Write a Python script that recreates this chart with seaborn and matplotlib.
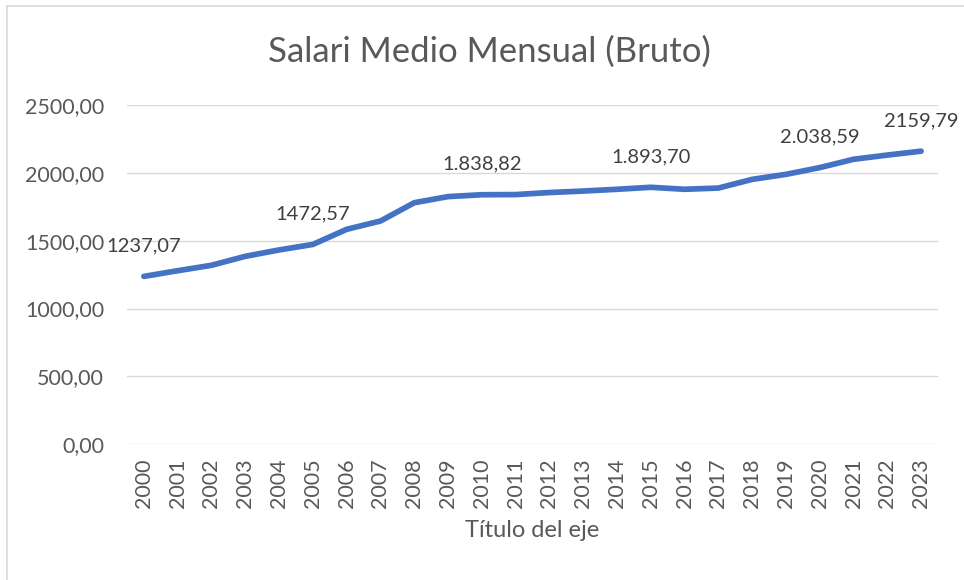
import numpy as np
import pandas as pd
import matplotlib
matplotlib.use("Agg")
import matplotlib.pyplot as plt
from matplotlib.lines import Line2D
import seaborn as sns

years = list(range(2000, 2024))
salario = [1237.07, 1279, 1319, 1385, 1432, 1472.57, 1584, 1645, 1780, 1825,
           1838.82, 1840, 1855, 1866, 1879, 1893.70, 1879, 1888, 1952, 1989,
           2038.59, 2100, 2131, 2159.79]
label_years = [2000, 2005, 2010, 2015, 2020, 2023]
label_texts = ["1237,07", "1472,57", "1.838,82", "1.893,70", "2.038,59", "2159,79"]
y_ticks = [0, 500, 1000, 1500, 2000, 2500]

df = pd.DataFrame({"Año": years, "Salario": salario})

sns.set_style("white")
plt.rcParams['font.family'] = ['Lato', 'DejaVu Sans']

fig = plt.figure(figsize=(9.64, 5.8), dpi=100)
ax = fig.add_axes([127 / 964, 1 - 444.3 / 580, (938 - 127) / 964, (444.3 - 105) / 580])

sns.lineplot(data=df, x="Año", y="Salario", color="#4472C4", linewidth=4.1,
             solid_capstyle="round", ax=ax)

ax.set_xlim(1999.5, 2023.5)
ax.set_ylim(0, 2500)
ax.set_yticks(y_ticks)
ax.set_yticklabels([f"{v},00" for v in y_ticks])
ax.set_xticks(years)
ax.set_xticklabels([str(y) for y in years], rotation=90)
ax.tick_params(axis="both", length=0, labelsize=15.5, colors="#595959")
ax.tick_params(axis="y", pad=16.5)
ax.tick_params(axis="x", pad=10)
ax.grid(axis="y", color="#D9D9D9", linewidth=1)
for s in ax.spines.values():
    s.set_visible(False)
ax.set_ylabel("")
ax.set_xlabel("Título del eje", fontsize=17, color="#595959", labelpad=9)

for yr, txt in zip(label_years, label_texts):
    val = salario[years.index(yr)]
    ax.annotate(txt, (yr, val), xytext=(0, 16), textcoords="offset points",
                ha="center", va="bottom", fontsize=14.5, color="#404040")

fig.text(489 / 964, 1 - 52 / 580, "Salari Medio Mensual (Bruto)", ha="center",
         va="center", fontsize=25, color="#595959")

# Excel-like chart border (left and top visible)
fig.add_artist(Line2D([7 / 964, 7 / 964], [0, 1 - 6 / 580], transform=fig.transFigure,
                      color="#D9D9D9", linewidth=1.2))
fig.add_artist(Line2D([7 / 964, 1], [1 - 6 / 580, 1 - 6 / 580], transform=fig.transFigure,
                      color="#D9D9D9", linewidth=1.2))

fig.savefig("out.png", dpi=100)
